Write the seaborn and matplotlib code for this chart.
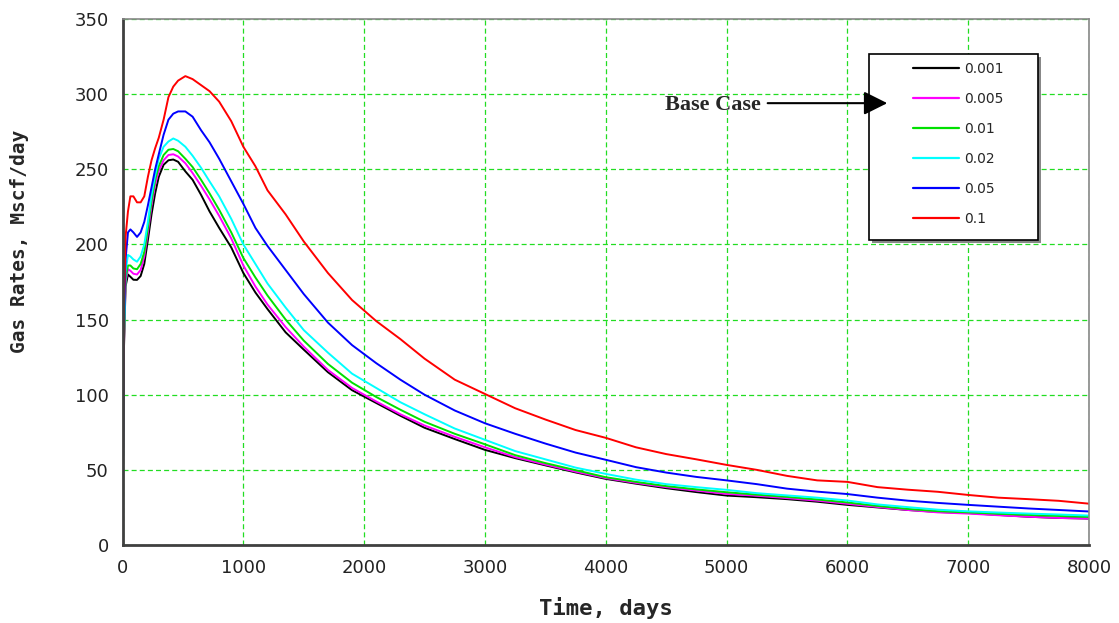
import numpy as np
import pandas as pd
import matplotlib
matplotlib.use("Agg")
import matplotlib.pyplot as plt
from matplotlib.patches import Rectangle
import seaborn as sns

# ---------------- data ----------------
time_days = [0, 10, 25, 45, 65, 90, 120, 150, 180, 210, 240, 270, 300, 340, 380, 420, 460,
             520, 580, 650, 720, 800, 900, 1000, 1100, 1200, 1350, 1500, 1700, 1900, 2100,
             2300, 2500, 2750, 3000, 3250, 3500, 3750, 4000, 4250, 4500, 4750, 5000, 5250,
             5500, 5750, 6000, 6250, 6500, 6750, 7000, 7250, 7500, 7750, 8000]

rate_0_001 = [0, 125, 172, 180, 178.5, 176.5, 176.4, 179, 187, 203, 220, 234, 245, 253, 256,
              256.5, 255, 248.6, 243, 233, 222, 211, 198, 181, 168, 157, 141.5, 130, 115, 103,
              94.5, 86, 78, 70.5, 63.3, 57.8, 53, 48.3, 44, 40.8, 37.8, 35.2, 32.9, 31.8, 30.5,
              28.8, 26.7, 25, 23.3, 22, 21.3, 20, 18.8, 18, 17.6]
rate_0_005 = [0, 128, 175, 183.5, 182.5, 180.5, 180, 183, 192, 208, 226, 240, 249, 256, 259.5,
              260, 258.5, 254, 247.5, 239, 230, 219, 204, 186, 172, 160, 145, 132, 116.5, 104.5,
              95.5, 87, 79.5, 72, 65, 58.5, 53.5, 48.8, 44.5, 41.3, 38.5, 36.2, 34, 32.8, 31.2,
              29.5, 27.4, 25.3, 23.3, 21.7, 20.9, 19.8, 18.8, 18, 17.6]
rate_0_01 = [0, 130, 177, 186, 186, 184, 183.5, 187, 195, 211, 229, 243, 252, 259.5, 263,
             263.5, 262, 257, 251.5, 243, 234, 223, 208, 191, 178, 166, 150, 136, 120.5, 108,
             98.5, 90, 82, 74, 67, 59.8, 54.5, 49.8, 45.1, 42, 39.2, 37, 35.1, 33.5, 32, 30.3,
             28.3, 26, 24, 22.5, 21.7, 20.8, 20, 19.3, 18.7]
rate_0_02 = [0, 135, 182, 193, 192, 190, 188.5, 192, 200, 215, 233, 246, 257, 265, 268.5,
             270.5, 269, 265, 259, 251, 242, 232, 217, 200, 187, 174, 158, 143, 128, 114,
             104.5, 95, 87, 77.5, 70, 62.5, 57, 51.5, 47.3, 43.5, 40.5, 38.5, 36.7, 34.5, 33,
             31.5, 29.6, 27, 25.2, 23.5, 22.4, 21.6, 20.9, 20.3, 19.6]
rate_0_05 = [0, 140, 190, 208, 210, 208, 205, 208, 215, 226, 238, 250, 260, 273, 283, 287,
             288.5, 288.5, 285, 276, 268, 257, 242, 227, 211, 199, 183, 167, 148, 133, 121,
             110, 100, 89.5, 81, 74, 67.5, 61.5, 56.7, 51.8, 48.2, 45.3, 43, 40.5, 37.5, 35.5,
             33.9, 31.5, 29.5, 28, 26.7, 25.5, 24.3, 23.3, 22.3]
rate_0_1 = [0, 150, 205, 222, 232, 232, 228, 228, 232, 245, 256, 264, 271, 283, 298, 305,
            309, 312, 310, 306, 302, 295, 282, 265, 252, 236, 220, 202, 181, 163, 149, 137,
            124, 110, 100.5, 91, 83.5, 76.5, 71.3, 65, 60.5, 57, 53.3, 50, 46, 43, 42, 38.5,
            36.8, 35.4, 33.3, 31.5, 30.5, 29.4, 27.5]

series_labels = ["0.001", "0.005", "0.01", "0.02", "0.05", "0.1"]
series_values = [rate_0_001, rate_0_005, rate_0_01, rate_0_02, rate_0_05, rate_0_1]
series_colors = ["#000000", "#ff00ff", "#00e000", "#00ffff", "#0000ff", "#ff0000"]

x_ticks = [0, 1000, 2000, 3000, 4000, 5000, 6000, 7000, 8000]
y_ticks = [0, 50, 100, 150, 200, 250, 300, 350]

# ---------------- build long-form table ----------------
frames = []
for lab, vals in zip(series_labels, series_values):
    frames.append(pd.DataFrame({"Time": time_days, "Rate": vals, "k": lab}))
df = pd.concat(frames, ignore_index=True)

sns.set_style("white")
plt.rcParams["font.family"] = ["DejaVu Sans"]

fig = plt.figure(figsize=(11.19, 6.23), dpi=100)
ax = fig.add_axes([0.1095, 0.1252, 0.9732 - 0.1095, 0.9695 - 0.1252])

sns.lineplot(data=df, x="Time", y="Rate", hue="k", hue_order=series_labels,
             palette=dict(zip(series_labels, series_colors)), estimator=None, sort=False,
             linewidth=1.4, ax=ax, legend="full")

ax.set_xlim(0, 8000)
ax.set_ylim(0, 350)
ax.set_xticks(x_ticks)
ax.set_yticks(y_ticks)
ax.tick_params(axis="both", direction="out", length=5, width=1, labelsize=13,
               colors="#222222", pad=5)

# grid
ax.grid(True, color="#22dd22", linestyle=(0, (4, 2.5)), linewidth=0.9)
ax.set_axisbelow(True)

# spines
for s in ["left", "bottom"]:
    ax.spines[s].set_color("#404040")
    ax.spines[s].set_linewidth(2)
for s in ["top", "right"]:
    ax.spines[s].set_color("#888888")
    ax.spines[s].set_linewidth(1.2)
    ax.spines[s].set_visible(True)

# axis labels
ax.set_xlabel("Time, days", family="DejaVu Sans Mono", fontweight="bold", fontsize=16)
ax.set_ylabel("Gas Rates, Mscf/day", family="DejaVu Sans Mono", fontweight="bold", fontsize=14)
ax.xaxis.set_label_coords(0.5, -0.099)
ax.yaxis.set_label_coords(-0.0967, 0.578)

# legend box (frame with shadow) and legend entries
shadow = Rectangle((0.775, 0.574), 0.175, 0.353, transform=ax.transAxes,
                   facecolor="#888888", edgecolor="none", zorder=4.4)
box = Rectangle((0.772, 0.58), 0.175, 0.353, transform=ax.transAxes,
                facecolor="white", edgecolor="black", linewidth=1.2, zorder=4.5)
ax.add_patch(shadow)
ax.add_patch(box)

handles, labels = ax.get_legend_handles_labels()
for h in handles:
    h.set_linewidth(1.6)
leg = ax.legend(handles, labels, loc="upper left", bbox_to_anchor=(0.8179, 0.918),
                frameon=False, fontsize=10, handlelength=3.3, handletextpad=0.4,
                labelspacing=1.15, borderpad=0, borderaxespad=0)
leg.set_zorder(5)

# "Base Case" annotation
ax.annotate("", xy=(6330, 294), xytext=(5340, 294),
            arrowprops=dict(arrowstyle="-|>,head_length=0.6,head_width=0.3",
                            mutation_scale=24, color="black", lw=1.5,
                            shrinkA=0, shrinkB=0), zorder=6)
ax.text(5280, 293, "Base Case", ha="right", va="center", fontsize=16,
        fontweight="bold", family="Liberation Serif", zorder=6)

fig.savefig("out.png", dpi=100)
